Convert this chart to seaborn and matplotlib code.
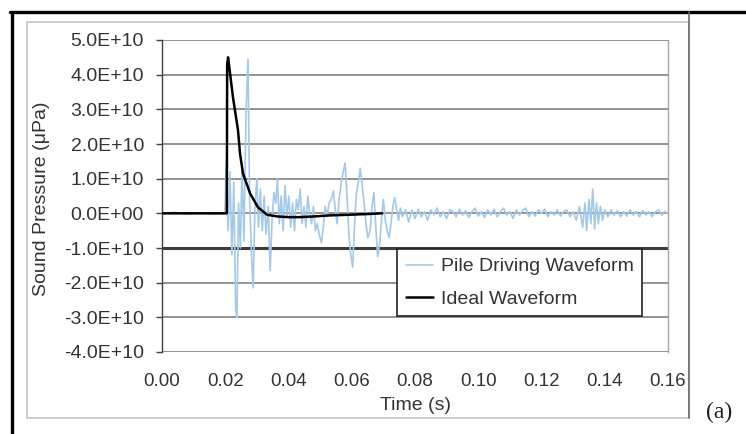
import numpy as np
import pandas as pd
import seaborn as sns
import matplotlib.pyplot as plt
from matplotlib.lines import Line2D
from matplotlib.patches import Rectangle
from matplotlib.ticker import FuncFormatter, MultipleLocator

# values, pressure in units of 1E+10 uPa
ideal_t = [0.0, 0.0205, 0.0206, 0.0209, 0.02245, 0.02403, 0.02466, 0.02561, 0.02783,
           0.03036, 0.0332, 0.0365, 0.0400, 0.0436, 0.0480, 0.0530, 0.0594, 0.0650, 0.0696]
ideal_p = [0.0, 0.0, 4.3, 4.5, 3.34, 2.4, 1.73, 1.15, 0.58,
           0.17, -0.04, -0.09, -0.11, -0.11, -0.09, -0.06, -0.04, -0.02, 0.0]

pile_t = [0.0, 0.004, 0.008, 0.012, 0.016, 0.0199,
          0.0203, 0.0209, 0.0215, 0.0221, 0.0227, 0.0233, 0.0237, 0.0242, 0.0248, 0.0253,
          0.0259, 0.0266, 0.0272, 0.0277, 0.0283, 0.0288, 0.0294, 0.0300, 0.0305, 0.0311,
          0.0317, 0.0323, 0.0329, 0.0336, 0.0342, 0.0348, 0.0354, 0.0360, 0.0365, 0.0371,
          0.0377, 0.0383, 0.0389, 0.0395, 0.0401, 0.0407, 0.0413, 0.0419, 0.0425, 0.0431,
          0.0437, 0.0443, 0.0449, 0.0455, 0.0461, 0.0467, 0.0473, 0.0479, 0.0485, 0.0491,
          0.0497, 0.0504, 0.0510, 0.0516, 0.0522, 0.0528, 0.0535, 0.0542, 0.0548, 0.0554,
          0.0560, 0.0567, 0.0573, 0.0579, 0.0585, 0.0591, 0.0597, 0.0603, 0.0609, 0.0615,
          0.0621, 0.0627, 0.0633, 0.0639, 0.0645, 0.0651, 0.0658, 0.0664, 0.0670, 0.0676,
          0.0682, 0.0688, 0.0694, 0.0700, 0.0706, 0.0712, 0.0718, 0.0724, 0.0730, 0.0736,
          0.0742, 0.0748, 0.0754, 0.0760, 0.077, 0.078, 0.079, 0.080, 0.081, 0.082,
          0.083, 0.084, 0.085, 0.086, 0.087, 0.088, 0.089, 0.090, 0.091, 0.092,
          0.093, 0.094, 0.095, 0.096, 0.097, 0.098, 0.099, 0.100, 0.101, 0.102,
          0.103, 0.104, 0.105, 0.106, 0.107, 0.108, 0.109, 0.110, 0.111, 0.112,
          0.113, 0.114, 0.115, 0.116, 0.117, 0.118, 0.119, 0.120, 0.121, 0.122,
          0.123, 0.124, 0.125, 0.126, 0.127, 0.128, 0.129, 0.130, 0.131, 0.132,
          0.133, 0.1337, 0.1343, 0.1350, 0.1356, 0.1362, 0.1368, 0.1374, 0.1380, 0.1386,
          0.1393, 0.140, 0.141, 0.142, 0.143, 0.144, 0.145, 0.146, 0.147, 0.148,
          0.149, 0.150, 0.151, 0.152, 0.153, 0.154, 0.155, 0.156, 0.157, 0.158,
          0.159, 0.160]
pile_p = [0.0, 0.03, -0.02, 0.02, -0.02, 0.0,
          1.5, -0.5, 1.2, -1.2, 0.9, -2.8, -3.0, 0.3, -1.0, 1.4,
          -0.8, 3.0, 4.45, 0.4, -1.2, -2.15, 0.2, 1.0, -0.4, 0.7,
          -0.5, 0.5, -0.6, 0.2, -1.65, -0.2, 0.6, 0.3, 1.0, -0.3,
          0.5, -0.5, 0.8, -0.1, 0.5, -0.4, 0.3, -0.5, 0.4, 0.1,
          0.7, -0.3, 0.2, -0.4, 0.5, 0.0, -0.3, 0.2, -0.5, -0.3,
          -0.6, -0.85, -0.4, 0.2, -0.1, 0.3, 0.4, 0.65, 0.1, -0.3,
          0.4, 0.9, 1.2, 1.45, 0.5, -0.6, -1.2, -1.55, -0.3, 0.6,
          0.9, 1.3, 0.8, 0.3, -0.3, -0.7, -0.5, 0.2, 0.6, -0.4,
          -1.25, -0.9, -0.2, 0.4, -0.2, -0.5, -0.7, -0.3, 0.2, 0.45,
          0.1, -0.2, 0.15, -0.1, 0.1, -0.25, 0.1, -0.15, 0.12, -0.1,
          0.05, -0.2, 0.1, -0.05, 0.15, -0.1, 0.05, -0.15, 0.1, 0.05,
          -0.1, 0.12, -0.05, 0.08, -0.12, 0.05, 0.15, -0.08, 0.05, -0.12,
          0.1, -0.05, 0.12, -0.1, 0.05, 0.15, -0.05, 0.05, -0.15, 0.1,
          -0.05, 0.08, 0.15, -0.1, 0.05, -0.08, 0.1, 0.0, 0.12, -0.1,
          0.05, -0.05, 0.1, -0.08, 0.05, 0.1, -0.1, 0.05, -0.2, 0.2,
          -0.4, 0.3, -0.5, 0.4, -0.3, 0.7, -0.45, 0.3, -0.3, 0.2,
          -0.2, 0.1, -0.1, 0.1, -0.05, 0.08, -0.1, 0.05, -0.08, 0.1,
          -0.05, 0.05, -0.1, 0.08, -0.05, 0.05, -0.1, 0.05, 0.1, -0.05,
          0.05, 0.0]

x_ticks = [0.0, 0.02, 0.04, 0.06, 0.08, 0.10, 0.12, 0.14, 0.16]

pile_df = pd.DataFrame({"t": pile_t, "p": np.array(pile_p) * 1e10})
ideal_df = pd.DataFrame({"t": ideal_t, "p": np.array(ideal_p) * 1e10})

sns.set_style("white")
plt.rcParams['font.family'] = ['Liberation Sans', 'DejaVu Sans']
txt = '#333333'

fig = plt.figure(figsize=(7.46, 4.34), dpi=100)
W, H = 746.0, 434.0
ax = fig.add_axes([162 / W, 1 - 352 / H, 506 / W, 312 / H])

# outer frames
fig.add_artist(Rectangle((27 / W, 1 - 418 / H), (689 - 27) / W, (418 - 22) / H,
                         transform=fig.transFigure, fill=False, ec='#c4c4c4', lw=1.2))
fig.add_artist(Line2D([10 / W, 1], [1 - 11.5 / H] * 2, color='black', lw=2.4,
                      transform=fig.transFigure))
fig.add_artist(Line2D([11.5 / W] * 2, [0, 1 - 11.5 / H], color='black', lw=2.4,
                      transform=fig.transFigure))
fig.add_artist(Line2D([689 / W] * 2, [1 - 418 / H, 1 - 11.5 / H], color='#6a6a6a', lw=1.2,
                      transform=fig.transFigure))

ax.set_xlim(0, 0.16)
ax.set_ylim(-4e10, 5e10)
ax.yaxis.set_major_locator(MultipleLocator(1e10))
ax.set_xticks(x_ticks)
ax.xaxis.set_major_formatter(FuncFormatter(lambda v, p: f"{v:.2f}"))
ax.yaxis.set_major_formatter(FuncFormatter(lambda v, p: f"{v:.1E}"))
ax.grid(axis='y', color='#808080', lw=1.2)
ax.axhline(-1e10, color='#3c3c3c', lw=2.2, zorder=1)

sns.lineplot(data=pile_df, x="t", y="p", ax=ax, sort=False, estimator=None,
             color='#a4c8e8', lw=1.2, label="Pile Driving Waveform", zorder=3)
sns.lineplot(data=ideal_df, x="t", y="p", ax=ax, sort=False, estimator=None,
             color='black', lw=1.8, label="Ideal Waveform", zorder=4)

for s in ['top', 'bottom']:
    ax.spines[s].set_visible(False)
ax.spines['left'].set_color('#404040')
ax.spines['left'].set_linewidth(1.0)
ax.spines['right'].set_color('#a8a8a8')
ax.spines['right'].set_linewidth(1.0)

ax.tick_params(axis='y', left=True, length=4, width=1, color='#404040', pad=9,
               labelsize=14, labelcolor=txt)
ax.tick_params(axis='x', bottom=False, length=0, pad=15, labelsize=13.5, labelcolor=txt)

ax.set_xlabel("Time (s)", fontsize=14, color=txt)
ax.set_ylabel("Sound Pressure (\u03bcPa)", fontsize=14, color=txt)
ax.xaxis.set_label_coords(0.5, -0.145)
ax.yaxis.set_label_coords(-0.222, 0.49)

leg = ax.legend(loc='upper left', bbox_to_anchor=(0.464, 0.33), fontsize=14,
                frameon=True, fancybox=False, edgecolor='#222222', framealpha=1,
                handlelength=1.4, handletextpad=0.4, labelspacing=0.75,
                borderpad=0.45, borderaxespad=0)
leg.get_frame().set_linewidth(1.2)
for t in leg.get_texts():
    t.set_color(txt)

fig.text(719 / W, 1 - 412 / H, "(a)", fontsize=17, family='Liberation Serif',
         ha='center', va='center', color='#222222')

fig.savefig("out.png", dpi=100)
